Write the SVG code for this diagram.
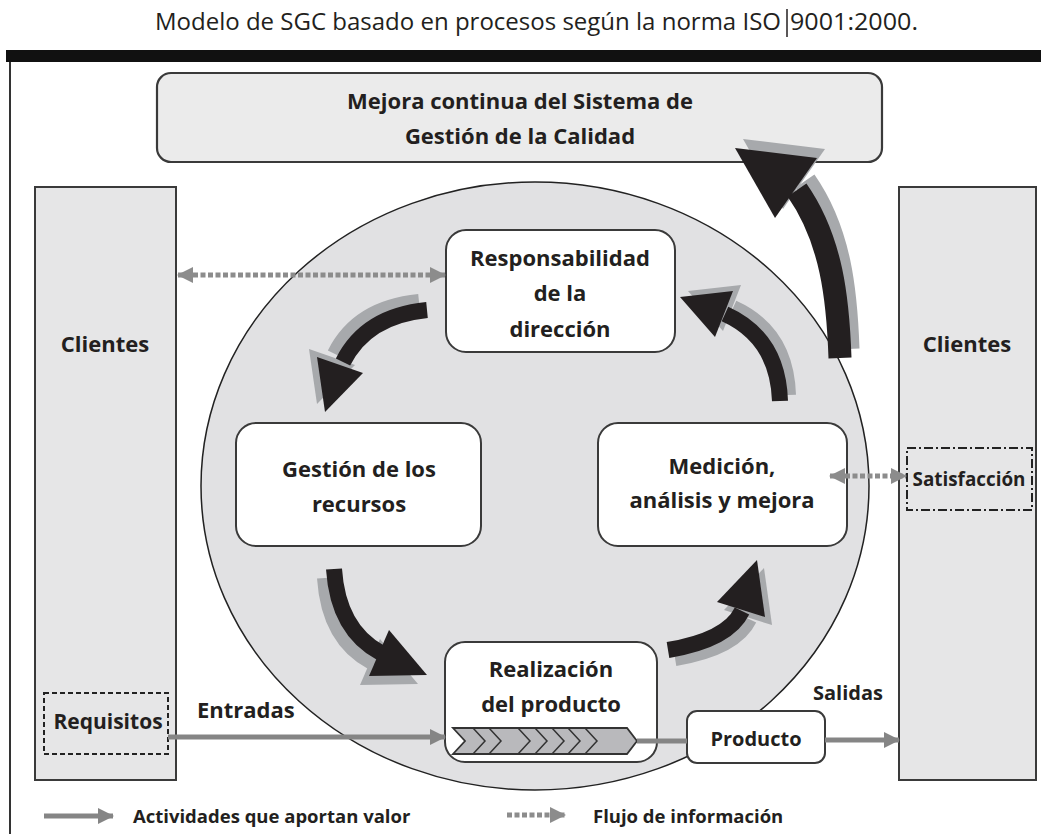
<svg xmlns="http://www.w3.org/2000/svg" width="1041" height="834" viewBox="0 0 1041 834">
<defs>
<style>
.lbl{font-family:"Open Sans","Liberation Sans",sans-serif;font-weight:700;font-size:22px;fill:#231f20;text-anchor:middle}
.lgd{font-family:"Open Sans","Liberation Sans",sans-serif;font-weight:700;font-size:18.5px;fill:#231f20}
.ttl{font-family:"Open Sans","Liberation Sans",sans-serif;font-size:23px;fill:#231f20}
.box{fill:#fff;stroke:#3a3a3a;stroke-width:2}
.side{fill:#e6e6e7;stroke:#3a3a3a;stroke-width:2}
.band{fill:none;stroke:currentColor;stroke-width:16}
.head{fill:currentColor}
.val{stroke:#858585;stroke-width:5;fill:none}
.info{stroke:#8c8c8c;stroke-width:5;fill:none;stroke-dasharray:5 2.5}
.chev{fill:none;stroke:#333;stroke-width:1.5}
</style>
<marker id="hv" viewBox="0 0 16 16" refX="15" refY="8" markerWidth="16" markerHeight="16" markerUnits="userSpaceOnUse" orient="auto-start-reverse"><path d="M0,0 L16,8 L0,16 Z" fill="#858585"/></marker>
<marker id="hi" viewBox="0 0 16 16" refX="15" refY="8" markerWidth="16" markerHeight="16" markerUnits="userSpaceOnUse" orient="auto-start-reverse"><path d="M0,0 L16,8 L0,16 Z" fill="#8c8c8c"/></marker>
<g id="a1"><path class="band" d="M 427 310 Q 366 316 343 362"/><path class="head" d="M 325 412 L 317 357 L 363 373 Z"/></g>
<g id="a2"><path class="band" d="M 334 569 Q 338 630 381 653"/><path class="head" d="M 427 675 L 389 630 L 369 676 Z"/></g>
<g id="a3"><path class="band" d="M 668 650 Q 728 640 742 611"/><path class="head" d="M 757 560 L 717 602 L 765 617 Z"/></g>
<g id="a4"><path class="band" d="M 780 401 Q 778 338 725 314"/><path class="head" d="M 680 297 L 733 291 L 715 337 Z"/></g>
<g id="a5"><path class="band" style="stroke-width:23" d="M 840 358 C 838 300 832 240 797 190"/><path class="head" d="M 735 148 L 817 158 L 775 218 Z"/></g>
</defs>
<rect width="1041" height="834" fill="#fff"/>

<g id="title">
<text class="ttl" x="155" y="30" textLength="626" lengthAdjust="spacingAndGlyphs">Modelo de SGC basado en procesos según la norma ISO</text>
<line x1="787" y1="9" x2="787" y2="37" stroke="#231f20" stroke-width="1.5"/>
<text class="ttl" x="790" y="30" textLength="128" lengthAdjust="spacingAndGlyphs">9001:2000.</text>
</g>

<g id="frame">
<rect x="6" y="50" width="1035" height="12" fill="#111"/>
<line x1="10" y1="62" x2="10" y2="834" stroke="#333" stroke-width="2"/>
</g>

<g id="circle">
<ellipse cx="535" cy="486" rx="334" ry="304" fill="#e1e1e3" stroke="#222" stroke-width="1.5"/>
</g>

<g id="mejora">
<rect x="157" y="73" width="725" height="89" rx="14" fill="#ebebeb" stroke="#3a3a3a" stroke-width="2.2"/>
<text class="lbl" x="520" y="109">Mejora continua del Sistema de</text>
<text class="lbl" x="520" y="144">Gestión de la Calidad</text>
</g>

<g id="clientes-izq">
<rect class="side" x="35" y="187" width="141" height="593"/>
<text class="lbl" x="105" y="352">Clientes</text>
</g>

<g id="requisitos">
<rect x="44" y="693" width="124" height="61" fill="none" stroke="#222" stroke-width="2" stroke-dasharray="5 3"/>
<text class="lbl" x="108" y="729" style="font-size:21px">Requisitos</text>
</g>

<g id="clientes-der">
<rect class="side" x="899" y="187" width="137" height="593"/>
<text class="lbl" x="967" y="352">Clientes</text>
</g>

<g id="satisfaccion">
<rect x="907" y="448" width="125" height="62" fill="none" stroke="#222" stroke-width="2" stroke-dasharray="9 3 2 3"/>
<text class="lbl" x="969" y="486" style="font-size:19px" textLength="113" lengthAdjust="spacingAndGlyphs">Satisfacción</text>
</g>

<g id="responsabilidad">
<rect class="box" x="446" y="230" width="229" height="122" rx="20"/>
<text class="lbl" x="560" y="266">Responsabilidad</text>
<text class="lbl" x="560" y="301">de la</text>
<text class="lbl" x="560" y="337">dirección</text>
</g>

<g id="gestion">
<rect class="box" x="236" y="423" width="245" height="123" rx="20"/>
<text class="lbl" x="359" y="477">Gestión de los</text>
<text class="lbl" x="359" y="512">recursos</text>
</g>

<g id="medicion">
<rect class="box" x="598" y="423" width="249" height="123" rx="20"/>
<text class="lbl" x="722" y="474">Medición,</text>
<text class="lbl" x="722" y="508">análisis y mejora</text>
</g>

<g id="realizacion">
<rect class="box" x="445" y="642" width="212" height="120" rx="20"/>
<text class="lbl" x="551" y="677">Realización</text>
<text class="lbl" x="551" y="712">del producto</text>
<path d="M 453 728 L 627 728 L 637 741 L 627 754 L 453 754 L 465 741 Z" fill="#b9b9bc" stroke="#333" stroke-width="1.8"/>
<path class="chev" d="M 473 728 L 485 741 L 473 754 M 489 728 L 501 741 L 489 754 M 518 728 L 530 741 L 518 754 M 535 728 L 547 741 L 535 754 M 552 728 L 564 741 L 552 754 M 568 728 L 580 741 L 568 754 M 585 728 L 597 741 L 585 754"/>
</g>

<g id="producto">
<rect class="box" x="687" y="711" width="138" height="52" rx="10"/>
<text class="lbl" x="756" y="746" style="font-size:20px">Producto</text>
</g>

<g id="connectors">
<use href="#a1" color="#a7a9ac" transform="translate(-8,-8)"/>
<use href="#a1" color="#231f20"/>
<use href="#a2" color="#a7a9ac" transform="translate(-9,9)"/>
<use href="#a2" color="#231f20"/>
<use href="#a3" color="#a7a9ac" transform="translate(7,8)"/>
<use href="#a3" color="#231f20"/>
<use href="#a4" color="#a7a9ac" transform="translate(8,-6)"/>
<use href="#a4" color="#231f20"/>
<use href="#a5" color="#a7a9ac" transform="translate(8,-9)"/>
<use href="#a5" color="#231f20"/>

<line class="info" x1="178" y1="275" x2="445" y2="275" marker-start="url(#hi)" marker-end="url(#hi)"/>
<line class="info" x1="830" y1="476" x2="906" y2="476" marker-start="url(#hi)" marker-end="url(#hi)"/>
<line class="val" x1="168" y1="737" x2="445" y2="737" marker-end="url(#hv)"/>
<line class="val" x1="637" y1="741" x2="687" y2="741"/>
<line class="val" x1="825" y1="740" x2="899" y2="740" marker-end="url(#hv)"/>
<text class="lgd" x="197" y="718" style="font-size:22px">Entradas</text>
<text class="lgd" x="813" y="700" style="font-size:20px">Salidas</text>
</g>

<g id="legend">
<line class="val" x1="44" y1="816" x2="113" y2="816" marker-end="url(#hv)"/>
<text class="lgd" x="133" y="823">Actividades que aportan valor</text>
<line class="info" x1="507" y1="815" x2="565" y2="815" marker-end="url(#hi)"/>
<text class="lgd" x="593" y="823">Flujo de información</text>
</g>
</svg>
